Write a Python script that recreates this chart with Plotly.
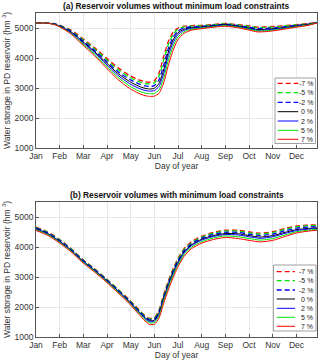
import plotly.graph_objects as go
from plotly.subplots import make_subplots

names = ["-7 %", "-5 %", "-2 %", "0 %", "2 %", "5 %", "7 %"]
colors = ["#ff0000", "#00e600", "#0000ff", "#000000", "#0000ff", "#00e600", "#ff0000"]
dashes = ["5px,3px", "5px,3px", "5px,3px", "solid", "solid", "solid", "solid"]

months = ["Jan", "Feb", "Mar", "Apr", "May", "Jun", "Jul", "Aug", "Sep", "Oct", "Nov", "Dec"]
month_pos = [0, 30.4, 60.8, 91.25, 121.7, 152.1, 182.5, 212.9, 243.3, 273.75, 304.2, 334.6]

# (a) without minimum load constraints
days_a = [0, 15, 25, 31, 45, 59, 75, 90, 105, 120, 132, 140, 146, 152, 158, 164, 170,
          176, 182, 190, 200, 215, 243, 260, 274, 284, 296, 310, 334, 350, 361]
vol_a = {
    "-7 %": [5170, 5170, 5135, 5090, 4930, 4670, 4350, 4010, 3680, 3420, 3270, 3210, 3195, 3240, 3500, 4050, 4550,
             4850, 4990, 5060, 5080, 5090, 5150, 5110, 5070, 5030, 5040, 5060, 5110, 5150, 5190],
    "-5 %": [5170, 5168, 5130, 5080, 4910, 4640, 4310, 3960, 3620, 3360, 3210, 3150, 3135, 3170, 3400, 3930, 4450,
             4780, 4950, 5040, 5060, 5075, 5140, 5095, 5050, 5010, 5020, 5040, 5100, 5140, 5185],
    "-2 %": [5170, 5166, 5125, 5070, 4890, 4600, 4260, 3900, 3550, 3290, 3140, 3070, 3050, 3080, 3270, 3760, 4320,
             4690, 4890, 5000, 5035, 5055, 5125, 5075, 5020, 4980, 4990, 5015, 5085, 5130, 5182],
    "0 %": [5170, 5165, 5120, 5060, 4870, 4570, 4220, 3850, 3490, 3220, 3060, 2990, 2965, 2990, 3150, 3600, 4200,
            4600, 4830, 4960, 5010, 5040, 5110, 5060, 5000, 4950, 4960, 4990, 5070, 5120, 5180],
    "2 %": [5170, 5164, 5115, 5050, 4850, 4540, 4180, 3800, 3430, 3150, 2990, 2920, 2895, 2915, 3050, 3470, 4080,
            4500, 4770, 4920, 4990, 5025, 5095, 5045, 4980, 4925, 4935, 4970, 5055, 5110, 5178],
    "5 %": [5170, 5162, 5108, 5040, 4820, 4500, 4130, 3740, 3360, 3070, 2900, 2830, 2805, 2820, 2930, 3320, 3920,
            4380, 4690, 4870, 4960, 5005, 5075, 5025, 4955, 4900, 4905, 4945, 5040, 5100, 5172],
    "7 %": [5170, 5160, 5100, 5030, 4800, 4460, 4080, 3680, 3290, 2990, 2820, 2745, 2720, 2730, 2820, 3170, 3750,
            4250, 4600, 4820, 4930, 4985, 5060, 5005, 4930, 4870, 4880, 4925, 5025, 5090, 5165],
}

# (b) with minimum load constraints
days_b = [0, 15, 30, 45, 59, 75, 90, 105, 120, 132, 140, 146, 152, 158, 164, 170, 176,
          182, 190, 200, 213, 228, 243, 260, 274, 288, 304, 320, 335, 350, 361]
vol_b = {
    "-7 %": [4660, 4500, 4260, 3950, 3610, 3280, 2950, 2600, 2240, 1920, 1710, 1620, 1640, 1900, 2420, 2870, 3270,
             3600, 3940, 4180, 4360, 4490, 4560, 4560, 4500, 4460, 4510, 4620, 4700, 4730, 4740],
    "-5 %": [4650, 4490, 4245, 3940, 3600, 3270, 2940, 2590, 2225, 1900, 1690, 1600, 1620, 1870, 2380, 2830, 3230,
             3570, 3910, 4150, 4330, 4460, 4530, 4530, 4470, 4430, 4480, 4590, 4675, 4710, 4720],
    "-2 %": [4630, 4470, 4225, 3920, 3580, 3250, 2920, 2570, 2200, 1875, 1665, 1570, 1590, 1835, 2340, 2790, 3190,
             3525, 3870, 4115, 4295, 4420, 4490, 4485, 4425, 4380, 4430, 4540, 4630, 4665, 4680],
    "0 %": [4610, 4450, 4200, 3900, 3560, 3230, 2900, 2550, 2180, 1850, 1640, 1540, 1560, 1800, 2300, 2750, 3150,
            3480, 3830, 4080, 4260, 4380, 4450, 4440, 4380, 4330, 4380, 4490, 4580, 4620, 4640],
    "2 %": [4595, 4435, 4185, 3885, 3545, 3215, 2885, 2535, 2165, 1830, 1615, 1510, 1525, 1760, 2260, 2710, 3110,
            3445, 3795, 4050, 4230, 4350, 4415, 4400, 4340, 4290, 4340, 4455, 4550, 4595, 4615],
    "5 %": [4575, 4415, 4165, 3865, 3525, 3195, 2865, 2510, 2140, 1800, 1580, 1470, 1480, 1700, 2200, 2650, 3050,
            3390, 3740, 4000, 4180, 4300, 4370, 4340, 4280, 4230, 4280, 4400, 4510, 4560, 4590],
    "7 %": [4550, 4390, 4140, 3840, 3500, 3170, 2840, 2480, 2110, 1760, 1535, 1420, 1420, 1630, 2120, 2570, 2970,
            3320, 3680, 3950, 4130, 4250, 4320, 4280, 4220, 4170, 4220, 4350, 4470, 4530, 4560],
}

W, H = 320, 364
ML, MR, MT, MB = 36, 3, 13, 27
PW, PH = W - ML - MR, H - MT - MB
FONT = "Liberation Sans, Arial, sans-serif"


def px_x(px):
    return (px - ML) / PW


def px_y(py):
    return (H - MB - py) / PH


fig = make_subplots(rows=2, cols=1)

for row, days, vols in [(1, days_a, vol_a), (2, days_b, vol_b)]:
    for name, c, d in zip(names, colors, dashes):
        fig.add_trace(go.Scatter(
            x=days, y=vols[name], name=name, mode="lines",
            line=dict(color=c, width=1.3 if d != "solid" else 1.0, dash=d, shape="spline", smoothing=0.6),
            showlegend=False), row=row, col=1)

top_dom = [px_y(148), 1]
bot_dom = [0, px_y(202)]
axis_common = dict(showline=True, mirror=True, linecolor="#555555", linewidth=0.7,
                   ticks="inside", ticklen=3, tickcolor="#555555",
                   showgrid=True, gridcolor="#e8e8e8", gridwidth=0.6, zeroline=False,
                   tickfont=dict(size=8.5, color="#333333", family=FONT))
for i, dom in [(1, top_dom), (2, bot_dom)]:
    fig.update_xaxes(axis_common, range=[0, 361], tickvals=month_pos, ticktext=months,
                     title=dict(text="Day of year", font=dict(size=8.5, color="#333333", family=FONT), standoff=3),
                     row=i, col=1)
    fig.update_yaxes(axis_common, range=[1000, 5500], tickvals=[1000, 2000, 3000, 4000, 5000],
                     domain=dom,
                     title=dict(text="Water storage in PD reservoir (hm <sup>3</sup>)",
                                font=dict(size=8.5, color="#333333", family=FONT), standoff=2),
                     row=i, col=1)

# titles
fig.add_annotation(text="<b>(a) Reservoir volumes without minimum load constraints</b>",
                   x=0.5, y=1, xref="paper", yref="paper", xanchor="center", yanchor="bottom",
                   yshift=0, showarrow=False, font=dict(size=8.4, color="#111111", family=FONT))
fig.add_annotation(text="<b>(b) Reservoir volumes with minimum load constraints</b>",
                   x=0.5, y=bot_dom[1], xref="paper", yref="paper", xanchor="center", yanchor="bottom",
                   yshift=0, showarrow=False, font=dict(size=8.4, color="#111111", family=FONT))


# legend boxes drawn by hand (plotly's legend symbols are wider than the original)
def add_legend(box, rows, sx0, sx1, tx):
    x0, y0, x1, y1 = box
    fig.add_shape(type="rect", xref="paper", yref="paper",
                  x0=px_x(x0), x1=px_x(x1), y0=px_y(y1), y1=px_y(y0),
                  fillcolor="white", line=dict(color="#888888", width=0.8), layer="above")
    for name, c, d, ry in zip(names, colors, dashes, rows):
        fig.add_shape(type="line", xref="paper", yref="paper",
                      x0=px_x(sx0), x1=px_x(sx1), y0=px_y(ry), y1=px_y(ry),
                      line=dict(color=c, width=1.3 if d != "solid" else 1.0, dash=d), layer="above")
        fig.add_annotation(text=name, x=px_x(tx), y=px_y(ry), xref="paper", yref="paper",
                           xanchor="right", yanchor="middle", showarrow=False,
                           font=dict(size=7, color="#222222", family=FONT))


add_legend((275, 78, 315.5, 143.5), [83.3, 92.7, 102.3, 111.7, 121, 130.3, 139.3], 277.7, 298.3, 315)
add_legend((273.5, 265, 316, 331), [271.7, 280.7, 290, 299, 308.3, 317.3, 326.3], 276.7, 295, 315)

fig.update_layout(width=W, height=H, margin=dict(l=ML, r=MR, t=MT, b=MB),
                  plot_bgcolor="white", paper_bgcolor="white",
                  font=dict(family=FONT, size=8.5, color="#333333"))

# drop the page's default body margin so the figure sits at the window's corner
fig.write_html("out.html", config={"displayModeBar": False},
               post_script="document.body.style.margin='0';")
